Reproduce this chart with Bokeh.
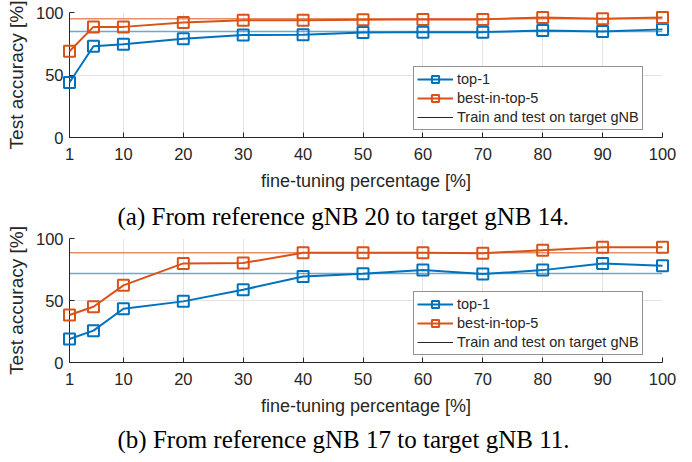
import numpy as np
from bokeh.plotting import figure
from bokeh.models import FixedTicker, Legend, LegendItem, Title
from bokeh.layouts import column
from bokeh.embed import file_html
from bokeh.resources import INLINE

# ---- data ----
x_pct = [1, 5, 10, 20, 30, 40, 50, 60, 70, 80, 90, 100]
x_ticks = [1, 10, 20, 30, 40, 50, 60, 70, 80, 90, 100]
y_ticks = [0, 50, 100]

a_top1 = [44, 73, 74.6, 79, 82, 82.2, 84, 84.3, 84.3, 85.6, 84.8, 86.5]
a_top5 = [69, 88.5, 88.5, 92, 93.8, 93.8, 94.2, 94.5, 94.5, 96, 95, 96.1]
a_base_top1 = 84.8
a_base_top5 = 95

b_top1 = [19, 25.7, 43.4, 49.3, 58.7, 69.4, 71.6, 74.5, 71.3, 74.5, 79.9, 78]
b_top5 = [38.3, 45, 62.2, 79.9, 80.2, 88.5, 88.5, 88.5, 88.2, 90.6, 93, 93]
b_base_top1 = 71.8
b_base_top5 = 88.5

series_labels = ["top-1", "best-in-top-5", "Train and test on target gNB"]
captions = ["(a) From reference gNB 20 to target gNB 14.",
            "(b) From reference gNB 17 to target gNB 11."]

BLUE = "#0072BD"
ORANGE = "#D95319"
AX = "#262626"
SANS = "Liberation Sans"
SERIF = "Liberation Serif"


def caption_title(text, standoff, valign):
    return Title(text=text, align="left", offset=48, vertical_align=valign,
                 text_font=SERIF, text_font_size="25px", text_font_style="normal",
                 text_color="black", standoff=standoff)


def make_panel(top1, top5, base1, base5, frame_h, b_top):
    p = figure(frame_width=593, frame_height=frame_h, x_range=(1, 100), y_range=(0, 100),
               output_backend="svg", toolbar_location=None, title=None,
               min_border_left=69, min_border_right=22,
               min_border_top=b_top, min_border_bottom=0)
    p.outline_line_color = None
    p.background_fill_color = "white"

    p.xaxis.ticker = FixedTicker(ticks=x_ticks)
    p.yaxis.ticker = FixedTicker(ticks=y_ticks)
    for ax in (p.xaxis, p.yaxis):
        ax.axis_line_color = AX
        ax.axis_line_width = 1
        ax.major_tick_line_color = AX
        ax.major_tick_in = 5
        ax.major_tick_out = 0
        ax.minor_tick_line_color = None
        ax.major_label_text_font = SANS
        ax.major_label_text_font_size = "16.5px"
        ax.major_label_text_color = AX
        ax.axis_label_text_font = SANS
        ax.axis_label_text_font_style = "normal"
        ax.axis_label_text_color = AX
    p.xaxis.axis_label_text_font_size = "18px"
    p.yaxis.axis_label_text_font_size = "19px"
    p.xaxis.axis_label = "fine-tuning percentage [%]"
    p.yaxis.axis_label = "Test accuracy [%]"
    p.xaxis.major_label_standoff = 10
    p.xaxis.axis_label_standoff = 8
    p.yaxis.major_label_standoff = 6
    p.yaxis.axis_label_standoff = 6

    p.xgrid.grid_line_color = "#e3e3e3"
    p.ygrid.grid_line_color = "#e3e3e3"
    p.xgrid.ticker = FixedTicker(ticks=x_ticks)
    p.ygrid.ticker = FixedTicker(ticks=y_ticks)

    xs_span = [x_pct[0], x_pct[-1]]
    p.line(xs_span, [base5, base5], line_color=ORANGE, line_alpha=0.65, line_width=1.5)
    p.line(xs_span, [base1, base1], line_color=BLUE, line_alpha=0.6, line_width=1.5)

    l1 = p.line(x_pct, top1, line_color=BLUE, line_width=2, level="overlay")
    s1 = p.scatter(x_pct, top1, marker="square", size=11, line_color=BLUE,
                   line_width=2, fill_alpha=0, level="overlay")
    l5 = p.line(x_pct, top5, line_color=ORANGE, line_width=2, level="overlay")
    s5 = p.scatter(x_pct, top5, marker="square", size=11, line_color=ORANGE,
                   line_width=2, fill_alpha=0, level="overlay")
    ref = p.line(xs_span, [base1, base1], line_color=AX, line_width=1, visible=False)

    legend = Legend(items=[
        LegendItem(label=series_labels[0], renderers=[l1, s1]),
        LegendItem(label=series_labels[1], renderers=[l5, s5]),
        LegendItem(label=series_labels[2], renderers=[ref]),
    ], location=(344, 7))
    legend.label_text_font = SANS
    legend.label_text_font_size = "14.5px"
    legend.label_text_color = AX
    legend.border_line_color = AX
    legend.border_line_width = 1
    legend.background_fill_alpha = 1
    legend.inactive_fill_alpha = 0
    legend.padding = 3
    legend.spacing = 1
    legend.margin = 0
    legend.glyph_width = 36
    legend.glyph_height = 18
    legend.label_height = 18
    legend.label_standoff = 4
    p.add_layout(legend, "center")
    return p


p1 = make_panel(a_top1, a_top5, a_base_top1, a_base_top5, 125, 12)
p2 = make_panel(b_top1, b_top5, b_base_top1, b_base_top5, 124, 0)
p2.add_layout(caption_title(captions[0], 16, "middle"), "above")
p2.add_layout(caption_title(captions[1], 11, "bottom"), "below")

page = column(p1, p2, spacing=0)
open("out.html", "w").write(file_html(page, INLINE))
